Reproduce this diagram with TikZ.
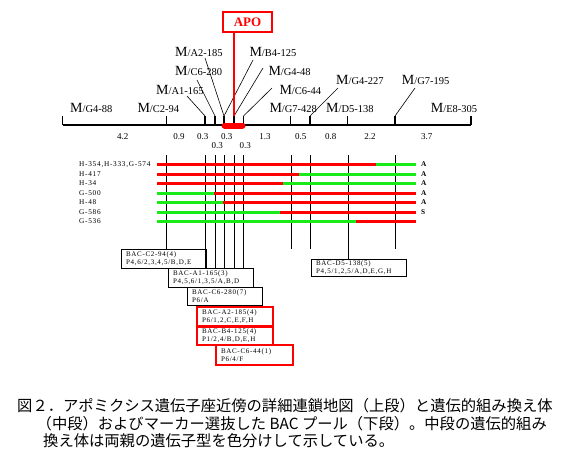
\documentclass[tikz,border=0pt]{standalone}
\usepackage{fontspec}
\usepackage{graphicx}
\setmainfont{Liberation Serif}
\newfontfamily\cjk{Noto Sans CJK JP}
\newfontfamily\tinyfont[LetterSpace=10]{Liberation Serif}
\usetikzlibrary{positioning}
\usepackage{color}

\definecolor{mapred}{RGB}{255,0,0}
\definecolor{mapgreen}{RGB}{25,235,25}

\newcommand{\mk}[1]{M{\fontsize{10.5}{12}\selectfont /#1}}

\begin{document}
\begin{tikzpicture}[x=1pt, y=-1pt,
axisline/.style={line width=1.6pt},
maptick/.style={line width=1.5pt},
leader/.style={line width=0.6pt},
guide/.style={line width=0.9pt},
markerlabel/.style={anchor=base west, inner sep=0pt, font=\fontsize{14}{16}\selectfont},
distlabel/.style={inner sep=0pt, font=\fontsize{9}{10}\selectfont},
redseg/.style={mapred, line width=3pt},
greenseg/.style={mapgreen, line width=3pt},
linelabel/.style={anchor=west, inner sep=0pt, font=\tinyfont\fontsize{7.3}{8}\selectfont},
bacbox/.style={draw, fill=white, line width=0.8pt, anchor=north west, align=left, inner xsep=5pt, inner ysep=1pt, minimum height=18pt, font=\tinyfont\fontsize{7}{8}\selectfont},
redbacbox/.style={bacbox, draw=mapred, line width=2pt},
apobox/.style={draw=mapred, line width=2pt, text=mapred, inner sep=0pt, minimum width=49pt, minimum height=20pt, font=\bfseries\fontsize{13}{14}\selectfont},
captext/.style={anchor=west, inner sep=0pt, font=\cjk\fontsize{15.3}{17}\selectfont},
]
\useasboundingbox (0,0) rectangle (570,466);

%Axis and ticks
\coordinate (axisL) at (62.7,125);
\coordinate (axisR) at (471,125);
\coordinate (kG488) at (62.7,116);
\coordinate (kC294) at (166.7,116);
\coordinate (kA1) at (205,116);
\coordinate (kC6a) at (215,116);
\coordinate (kA2) at (224,116);
\coordinate (kG448) at (234,116);
\coordinate (kC6b) at (243.5,116);
\coordinate (kG7a) at (290.7,116);
\coordinate (kG4b) at (310,116);
\coordinate (kD5) at (347.7,116);
\coordinate (kG7b) at (395,116);
\coordinate (kE8) at (471,116);

%Marker labels
\node[markerlabel] at (70,112.7)    (lblG488) {\mk{G4-88}};
\node[markerlabel] at (137.3,112.7) (lblC294) {\mk{C2-94}};
\node[markerlabel] at (156,94.3)    (lblA1)   {\mk{A1-165}};
\node[markerlabel] at (175,75.3)    (lblC6a)  {\mk{C6-280}};
\node[markerlabel] at (175,56.7)    (lblA2)   {\mk{A2-185}};
\node[markerlabel] at (249.3,56)    (lblB4)   {\mk{B4-125}};
\node[markerlabel] at (268.3,75)    (lblG4)   {\mk{G4-48}};
\node[markerlabel] at (279.3,94.3)  (lblC6b)  {\mk{C6-44}};
\node[markerlabel] at (269.3,112.7) (lblG7a)  {\mk{G7-428}};
\node[markerlabel] at (326,112.7)   (lblD5)   {\mk{D5-138}};
\node[markerlabel] at (336,84.3)    (lblG4b)  {\mk{G4-227}};
\node[markerlabel] at (401.7,84.3)  (lblG7b)  {\mk{G7-195}};
\node[markerlabel] at (430.7,112.7) (lblE8)   {\mk{E8-305}};

\coordinate (ldA1) at (187,96);
\coordinate (ldC6a) at (197,80);
\coordinate (ldA2) at (205,58);
\coordinate (ldB4) at (253,60);
\coordinate (ldG4) at (263,68);
\coordinate (ldC6b) at (272,88);
\coordinate (ldG4b) at (338,88);
\coordinate (ldG7b) at (415,88);

\draw[leader] (ldA1) -- (kA1);
\draw[leader] (ldC6a) -- (kC6a);
\draw[leader] (ldA2) -- (kA2);
\draw[leader] (ldB4) -- (kA2);
\draw[leader] (ldG4) -- (kG448);
\draw[leader] (ldC6b) -- (kC6b);
\draw[leader] (ldG4b) -- (kG4b);
\draw[leader] (ldG7b) -- (kG7b);

%APO
\node[apobox] at (247.5,22) (apo) {APO};
\draw[mapred, line width=2pt] (apo.south -| kG448) -- (kG448 |- axisL);

\draw[axisline] (axisL) -- (axisR);
\draw[maptick] (kG488) -- (kG488 |- axisL);
\draw[maptick] (kC294) -- (kC294 |- axisL);
\draw[maptick] (kA1) -- (kA1 |- axisL);
\draw[maptick] (kC6a) -- (kC6a |- axisL);
\draw[maptick] (kA2) -- (kA2 |- axisL);
\draw[maptick] (kG448) -- (kG448 |- axisL);
\draw[maptick] (kC6b) -- (kC6b |- axisL);
\draw[maptick] (kG7a) -- (kG7a |- axisL);
\draw[maptick] (kG4b) -- (kG4b |- axisL);
\draw[maptick] (kD5) -- (kD5 |- axisL);
\draw[maptick] (kG7b) -- (kG7b |- axisL);
\draw[maptick] (kE8) -- (kE8 |- axisL);
\draw[mapred, line width=6pt, line cap=round] (224.5,125.5) -- (242.5,125.5);

%Distances
\node[distlabel] at (122.7,136.7) (d1) {4.2};
\node[distlabel] at (179,136.7)   (d2) {0.9};
\node[distlabel] at (202.7,136.7) (d3) {0.3};
\node[distlabel] at (226.7,136.7) (d4) {0.3};
\node[distlabel] at (265,136.7)   (d5) {1.3};
\node[distlabel] at (300.7,136.7) (d6) {0.5};
\node[distlabel] at (330.7,136.7) (d7) {0.8};
\node[distlabel] at (370,136.7)   (d8) {2.2};
\node[distlabel] at (426.7,136.7) (d9) {3.7};
\node[distlabel] at (217.3,145.7) (d10) {0.3};
\node[distlabel] at (245.3,145.7) (d11) {0.3};

%Guides
\coordinate (gC294) at (166.7,155);
\coordinate (gA1) at (205.5,155);
\coordinate (gC6a) at (215,155);
\coordinate (gA2) at (224.5,155);
\coordinate (gG448) at (234.5,155);
\coordinate (gC6b) at (243.5,155);
\coordinate (gG7a) at (291.5,155);
\coordinate (gG4b) at (310.5,155);
\coordinate (gD5) at (348,155);
\coordinate (gG7b) at (395,155);
\coordinate (eG7a) at (291.5,249);
\coordinate (eG4b) at (310.5,249);
\coordinate (eG7b) at (395,249);

%BAC boxes
\node[bacbox, text width=75pt, minimum height=18.4pt] at (120.7,249.3) (bacC294) {BAC-C2-94(4)\\P4,6/2,3,4,5/B,D,E};
\node[bacbox, text width=75.6pt, minimum height=18.4pt] at (167.7,268.3) (bacA1165) {BAC-A1-165(3)\\P4,5,6/1,3,5/A,B,D};
\node[bacbox, text width=65.6pt, minimum height=17.7pt] at (186.7,287.3) (bacC6280) {BAC-C6-280(7)\\P6/A};
\node[redbacbox, text width=65.7pt, minimum height=19pt] at (196,306) (bacA2185) {BAC-A2-185(4)\\P6/1,2,C,E,F,H};
\node[redbacbox, text width=65.7pt, minimum height=18pt] at (196,325.5) (bacB4125) {BAC-B4-125(4)\\P1/2,4/B,D,E,H};
\node[redbacbox, text width=66.7pt, minimum height=20pt] at (215,344) (bacC644) {BAC-C6-44(1)\\P6/4/F};
\node[bacbox, text width=85.3pt, minimum height=17pt] at (310.7,259) (bacD5138) {BAC-D5-138(5)\\P4,5/1,2,5/A,D,E,G,H};

%Lines
\draw[guide] (gC294) -- (gC294 |- bacC294.north);
\draw[guide] (gA1) -- (gA1 |- bacA1165.north);
\draw[guide] (gC6a) -- (gC6a |- bacA1165.north);
\draw[guide] (gA2) -- (gA2 |- bacA1165.north);
\draw[guide] (gG448) -- (gG448 |- bacA1165.north);
\draw[guide] (gC6b) -- (gC6b |- bacA1165.north);
\draw[guide] (gG7a) -- (eG7a);
\draw[guide] (gG4b) -- (eG4b);
\draw[guide] (gD5) -- (gD5 |- bacD5138.north);
\draw[guide] (gG7b) -- (eG7b);

%Recombinants
\node[linelabel] at (79,164.5) (rec1) {H-354,H-333,G-574};
\node[linelabel] at (79,174)   (rec2) {H-417};
\node[linelabel] at (79,183.5) (rec3) {H-34};
\node[linelabel] at (79,193)   (rec4) {G-500};
\node[linelabel] at (79,202.5) (rec5) {H-48};
\node[linelabel] at (79,212)   (rec6) {G-586};
\node[linelabel] at (79,221.5) (rec7) {G-536};

\draw[redseg] (157,164.5) -- (376,164.5);
\draw[greenseg] (376,164.5) -- (416,164.5);
\draw[redseg] (157,174) -- (299,174);
\draw[greenseg] (299,174) -- (416,174);
\draw[redseg] (157,183.5) -- (283,183.5);
\draw[greenseg] (283,183.5) -- (416,183.5);
\draw[greenseg] (157,193) -- (214,193);
\draw[redseg] (214,193) -- (416,193);
\draw[greenseg] (157,202.5) -- (223,202.5);
\draw[redseg] (223,202.5) -- (416,202.5);
\draw[greenseg] (157,212) -- (280,212);
\draw[redseg] (280,212) -- (416,212);
\draw[greenseg] (157,221.5) -- (356,221.5);
\draw[redseg] (356,221.5) -- (416,221.5);

\node[linelabel] at (421,164.5) (ap1) {\bfseries A};
\node[linelabel] at (421,174)   (ap2) {\bfseries A};
\node[linelabel] at (421,183.5) (ap3) {\bfseries A};
\node[linelabel] at (421,193)   (ap4) {\bfseries A};
\node[linelabel] at (421,202.5) (ap5) {\bfseries A};
\node[linelabel] at (421,212)   (ap6) {\bfseries S};

%Caption
\node[captext] at (17,406)   (cap1) {図２．アポミクシス遺伝子座近傍の詳細連鎖地図（上段）と遺伝的組み換え体};
\node[captext] at (36.5,423.5) (cap2) {（中段）およびマーカー選抜した BAC プール（下段）。中段の遺伝的組み};
\node[captext] at (43,441)   (cap3) {換え体は両親の遺伝子型を色分けして示している。};

\end{tikzpicture}
\end{document}
